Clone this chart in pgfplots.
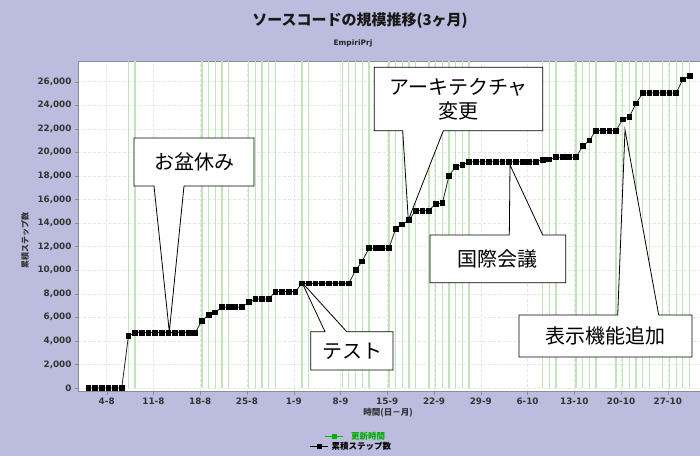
\documentclass[border=0pt]{standalone}
\usepackage{fontspec}
\usepackage{pgfplots}
\pgfplotsset{compat=1.18}
\setmainfont{DejaVu Sans}
\newfontfamily\jp{Noto Sans CJK JP}
\definecolor{bg}{RGB}{188,188,222}
\definecolor{upd}{RGB}{192,229,184}
\definecolor{lgreen}{RGB}{0,175,0}

\begin{document}
\begin{tikzpicture}[x=1pt,y=1pt]
\fill[bg] (0,0) rectangle (700,456);

\begin{axis}[
  at={(78pt,64.5pt)}, anchor=south west,
  scale only axis, width=625pt, height=330.5pt,
  xmin=-0.296, xmax=93.27, ymin=-300, ymax=27754,
  axis background/.style={fill=white},
  axis line style={black!45},
  xtick={4,11,18,25,32,39,46,53,60,67,74,81,88},
  xticklabels={4-8,11-8,18-8,25-8,1-9,8-9,15-9,22-9,29-9,6-10,13-10,20-10,27-10},
  ytick={0,2000,...,26000},
  scaled y ticks=false,
  yticklabel style={/pgf/number format/fixed, /pgf/number format/1000 sep={,}},
  /pgf/number format/assume math mode=true,
  tick label style={font=\bfseries\fontsize{8.8}{9}\selectfont, text=black!80},
  tick align=outside, major tick length=3pt,
  tick style={black!45},
  xtick pos=lower, ytick pos=left,
  grid=major,
  major grid style={densely dashed, black!10},
]
% update times
\addplot[upd, line width=1.3pt, ycomb, mark=none] coordinates {
(7.25,27754)(8.25,27754)(18.25,27754)(19.25,27754)(20.25,27754)(21.25,27754)
(22.25,27754)(25.25,27754)(26.25,27754)(27.25,27754)(28.25,27754)(29.25,27754)
(33.25,27754)(34.25,27754)(39.25,27754)(40.25,27754)(41.25,27754)(42.25,27754)
(43.25,27754)(46.25,27754)(47.25,27754)(48.25,27754)(49.25,27754)(50.25,27754)
(52.25,27754)(53.25,27754)(54.25,27754)(55.25,27754)(56.25,27754)(57.25,27754)
(58.25,27754)(69.25,27754)(70.25,27754)(71.25,27754)(74.25,27754)(75.25,27754)
(76.25,27754)(77.25,27754)(80.25,27754)(81.25,27754)(82.25,27754)(83.25,27754)
(84.25,27754)(85.25,27754)(87.25,27754)(88.25,27754)(89.25,27754)(90.25,27754)
(91.25,27754)};
% cumulative steps
\addplot[black!85, line width=0.8pt, mark=square*, mark size=2.4pt,
  mark options={fill=black, draw=black}] coordinates {
(1.25,0)(2.25,0)(3.25,0)(4.25,0)(5.25,0)(6.25,0)
(7.25,4400)
(8.25,4700)(9.25,4700)(10.25,4700)(11.25,4700)(12.25,4700)(13.25,4700)
(14.25,4700)(15.25,4700)(16.25,4700)(17.25,4700)
(18.25,5700)(19.25,6200)(20.25,6420)
(21.25,6850)(22.25,6850)(23.25,6850)(24.25,6850)
(25.25,7280)
(26.25,7550)(27.25,7550)(28.25,7550)
(29.25,8180)(30.25,8180)(31.25,8180)(32.25,8180)
(33.25,8880)(34.25,8880)(35.25,8880)(36.25,8880)(37.25,8880)(38.25,8880)
(39.25,8880)(40.25,8880)
(41.25,9990)(42.25,10750)
(43.25,11860)(44.25,11860)(45.25,11860)(46.25,11860)
(47.25,13500)(48.25,13880)(49.25,14260)
(50.25,15060)(51.25,15060)(52.25,15060)
(53.25,15650)(54.25,15680)
(55.25,18030)(56.25,18790)(57.25,18930)
(58.25,19210)(59.25,19210)(60.25,19210)(61.25,19210)(62.25,19210)(63.25,19210)
(64.25,19210)(65.25,19210)(66.25,19210)(67.25,19210)(68.25,19210)
(69.25,19355)(70.25,19400)
(71.25,19580)(72.25,19580)(73.25,19580)(74.25,19580)
(75.25,20520)(76.25,21020)
(77.25,21850)(78.25,21850)(79.25,21850)(80.25,21850)
(81.25,22800)(82.25,23030)(83.25,24160)
(84.25,25040)(85.25,25040)(86.25,25040)(87.25,25040)(88.25,25040)(89.25,25040)
(90.25,26200)(91.25,26490)};
\end{axis}

\begin{scope}[yshift=456pt, yscale=-1]
  % titles
  \node[font=\jp\bfseries\fontsize{15}{15}\selectfont, text=black!90] at (360,21) {ソースコードの規模推移(3ヶ月)};
  \node[font=\bfseries\fontsize{7.5}{8}\selectfont, text=black!85] at (353,43) {EmpiriPrj};
  % axis labels
  \node[font=\jp\bfseries\fontsize{8}{8}\selectfont, rotate=90, text=black!80] at (25,240) {累積ステップ数};
  \node[font=\jp\bfseries\fontsize{8.5}{8.5}\selectfont, text=black!80] at (388,413) {時間(日－月)};
  % legend
  \draw[lgreen, line width=1pt] (325,436) -- (343,436);
  \fill[lgreen] (331.5,433.5) rectangle (336.5,438.5);
  \node[font=\jp\bfseries\fontsize{8.5}{8.5}\selectfont, text=lgreen, anchor=west, inner sep=0pt] at (351,436) {更新時間};
  \draw[black, line width=1pt] (310,446) -- (328,446);
  \fill[black] (316.5,443.5) rectangle (321.5,448.5);
  \node[font=\jp\bfseries\fontsize{8.5}{8.5}\selectfont, text=black, anchor=west, inner sep=0pt] at (331.5,446) {累積ステップ数};
  % callouts
  \begin{scope}[font=\jp\fontsize{20}{24}\selectfont, line width=0.8pt]
  \filldraw[fill=white] (134,138) -- (254,138) -- (254,186) -- (184,186) -- (169.3,331.7) -- (154,186) -- (134,186) -- cycle;
  \node at (194,162) {お盆休み};
  \filldraw[fill=white] (310.7,331.7) -- (325,331.7) -- (302,282.5) -- (346.7,331.7) -- (393,331.7) -- (393,370) -- (310.7,370) -- cycle;
  \node at (352,351) {テスト};
  \filldraw[fill=white] (374.3,67.3) -- (542.7,67.3) -- (542.7,130.7) -- (443.3,130.7) -- (408.3,220) -- (402.7,130.7) -- (374.3,130.7) -- cycle;
  \node[align=center] at (458.5,99) {アーキテクチャ\\変更};
  \filldraw[fill=white] (430,235) -- (509.3,235) -- (510,165) -- (542.7,235) -- (565.7,235) -- (565.7,282.7) -- (430,282.7) -- cycle;
  \node at (497.8,258.8) {国際会議};
  \filldraw[fill=white] (519,315) -- (617.7,315) -- (625,130) -- (658.7,315) -- (692,315) -- (692,357) -- (519,357) -- cycle;
  \node at (605.5,336) {表示機能追加};
  \end{scope}
\end{scope}
\pgfresetboundingbox
\path (0,0) rectangle (700,456);
\end{tikzpicture}
\end{document}
